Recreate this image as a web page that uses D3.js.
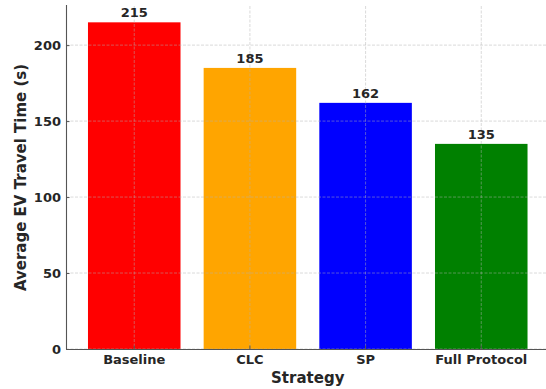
<!DOCTYPE html>
<html>
<head>
<meta charset="utf-8">
<script src="https://cdn.jsdelivr.net/npm/d3@7"></script>
<style>
  html, body { margin: 0; padding: 0; background: #fff; }
  svg { display: block; }
  text { font-family: "DejaVu Sans", sans-serif; font-weight: bold; fill: #262626; }
</style>
</head>
<body>
<svg id="chart" width="546" height="389"></svg>
<script>
// Average EV travel time per strategy
const strategies = ["Baseline", "CLC", "SP", "Full Protocol"];
const travelTimes = [215, 185, 162, 135];
const barColors = ["#ff0000", "#ffa500", "#0000ff", "#008000"];
const yTicks = [0, 50, 100, 150, 200];

const svg = d3.select("#chart");
const plotLeft = 66, plotRight = 549.5, plotTop = 6, plotBottom = 349;

const x = d3.scaleBand()
  .domain(strategies)
  .range([plotLeft, plotRight])
  .paddingInner(0.2)
  .paddingOuter(0.19);

const y = d3.scaleLinear()
  .domain([0, d3.max(travelTimes) * 1.05])
  .range([plotBottom, plotTop]);

// bars
svg.append("g").selectAll("rect")
  .data(strategies)
  .join("rect")
  .attr("x", d => x(d))
  .attr("width", x.bandwidth())
  .attr("y", (d, i) => y(travelTimes[i]))
  .attr("height", (d, i) => y(0) - y(travelTimes[i]))
  .attr("fill", (d, i) => barColors[i]);

// dashed grid on top of the bars
const grid = svg.append("g")
  .attr("stroke", "#b0b0b0")
  .attr("stroke-opacity", 0.6)
  .attr("stroke-width", 0.8)
  .attr("stroke-dasharray", "3,1.5");
grid.selectAll("line.h")
  .data(yTicks)
  .join("line")
  .attr("class", "h")
  .attr("x1", plotLeft).attr("x2", 546)
  .attr("y1", d => y(d)).attr("y2", d => y(d));
grid.selectAll("line.v")
  .data(strategies)
  .join("line")
  .attr("class", "v")
  .attr("x1", d => x(d) + x.bandwidth() / 2)
  .attr("x2", d => x(d) + x.bandwidth() / 2)
  .attr("y1", plotTop).attr("y2", plotBottom);

// axes with inward ticks
const yAxis = svg.append("g")
  .attr("transform", `translate(${plotLeft},0)`)
  .call(d3.axisLeft(y).tickValues(yTicks).tickSize(-3.5).tickPadding(5).tickFormat(d3.format("d")));
const xAxis = svg.append("g")
  .attr("transform", `translate(0,${plotBottom})`)
  .call(d3.axisBottom(x).tickSize(-3.5).tickPadding(6));

[yAxis, xAxis].forEach(a => {
  a.select(".domain").attr("stroke", "#555").attr("stroke-width", 1.1);
  a.selectAll(".tick line").attr("stroke", "#555");
  a.selectAll(".tick text")
    .attr("font-family", "DejaVu Sans")
    .attr("font-weight", "bold")
    .attr("font-size", 13)
    .attr("fill", "#262626");
});
xAxis.select(".domain").attr("d", `M${plotLeft},0.5H546`);
yAxis.select(".domain").attr("d", `M0.5,${plotBottom}V${plotTop - 1}`);

// value labels
svg.append("g").selectAll("text")
  .data(strategies)
  .join("text")
  .attr("x", d => x(d) + x.bandwidth() / 2)
  .attr("y", (d, i) => y(travelTimes[i]) - 5)
  .attr("text-anchor", "middle")
  .attr("font-size", 13)
  .text((d, i) => travelTimes[i]);

// axis titles
svg.append("text")
  .attr("x", (plotLeft + plotRight) / 2)
  .attr("y", 383)
  .attr("text-anchor", "middle")
  .attr("font-size", 15)
  .text("Strategy");

svg.append("text")
  .attr("transform", `translate(25.5,${(plotTop + plotBottom) / 2}) rotate(-90)`)
  .attr("text-anchor", "middle")
  .attr("font-size", 15)
  .text("Average EV Travel Time (s)");
</script>
</body>
</html>
